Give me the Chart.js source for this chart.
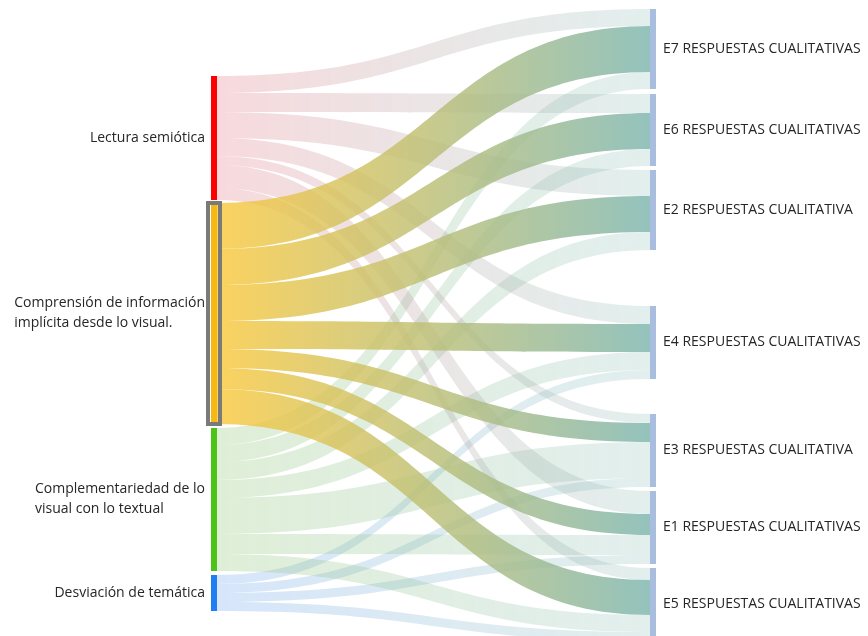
<!DOCTYPE html>
<html>
<head>
<meta charset="utf-8">
<script src="https://cdn.jsdelivr.net/npm/chart.js@4.4.1/dist/chart.umd.min.js"></script>
<style>
html,body{margin:0;padding:0;background:#fff;}
#wrap{width:868px;height:636px;position:relative;}
</style>
</head>
<body>
<div id="wrap"><canvas id="c"></canvas></div>
<script>
// ---- DATA ----
const sourceLabels = [
  ["Lectura semiótica"],
  ["Comprensión de información", "implícita desde lo visual."],
  ["Complementariedad de lo", "visual con lo textual"],
  ["Desviación de temática"]
];
const targetLabels = [
  "E7 RESPUESTAS CUALITATIVAS",
  "E6 RESPUESTAS CUALITATIVAS",
  "E2 RESPUESTAS CUALITATIVA",
  "E4 RESPUESTAS CUALITATIVAS",
  "E3 RESPUESTAS CUALITATIVA",
  "E1 RESPUESTAS CUALITATIVAS",
  "E5 RESPUESTAS CUALITATIVAS"
];
// flow values from each source to targets (order of targetLabels)
const fromLectura           = [17, 19, 26, 18,  9, 23, 12];
const fromComprension       = [46, 36, 36, 28, 19, 21, 35];
const fromComplementariedad = [17, 17, 18, 18, 36, 20, 17];
const fromDesviacion        = [ 0,  0,  0,  9,  9,  9,  9];
const flows = [fromLectura, fromComprension, fromComplementariedad, fromDesviacion];

// ---- LAYOUT / STYLE ----
const layout = {
  leftTop: 76, leftGaps: [3, 4, 4],
  rightTop: 9, rightGaps: [5, 4, 56, 35, 4, 4],
  nodeWidth: 6,
  selected: 1
};
const style = {
  sourceNodeColors: ['#ff0000', '#f5b914', '#4cc417', '#1f7ef2'],
  targetNodeColor: '#a9bedf',
  linkSrcFaded: ['rgba(230,130,140,0.3)', 'rgba(250,200,60,0.3)', 'rgba(150,200,120,0.3)', 'rgba(120,170,240,0.3)'],
  linkSrcHighlight: 'rgba(250,200,60,0.82)',
  linkTgtFaded: 'rgba(124,181,174,0.22)',
  linkTgtHighlight: 'rgba(124,181,174,0.82)',
  font: '14px "Open Sans", "Noto Sans", sans-serif',
  textColor: '#262626',
  lineHeight: 20
};

const sankeyPlugin = {
  id: 'sankey',
  afterDatasetsDraw(chart, args, opts) {
    const ctx = chart.ctx;
    const xs = chart.scales.x, ys = chart.scales.y;
    const nS = flows.length, nT = targetLabels.length;
    const srcTotals = flows.map(r => r.reduce((a, b) => a + b, 0));
    const tgtTotals = targetLabels.map((_, j) => flows.reduce((a, r) => a + r[j], 0));
    let y = layout.leftTop;
    const srcTop = srcTotals.map((t, i) => { if (i > 0) y += layout.leftGaps[i - 1]; const v = y; y += t; return v; });
    y = layout.rightTop;
    const tgtTop = tgtTotals.map((t, j) => { if (j > 0) y += layout.rightGaps[j - 1]; const v = y; y += t; return v; });

    const px = v => ys.getPixelForValue(v);
    const xL = xs.getPixelForValue(0), xR = xs.getPixelForValue(1);
    const w = layout.nodeWidth;
    const x0 = xL + w, x1 = xR - w;
    const xm = (x0 + x1) / 2;

    const links = [];
    const srcOff = srcTop.slice();
    const tgtOff = tgtTop.slice();
    for (let i = 0; i < nS; i++) {
      for (let j = 0; j < nT; j++) {
        const v = flows[i][j];
        if (!v) continue;
        links.push({ i, j, v, sy: srcOff[i], ty: 0 });
        srcOff[i] += v;
      }
    }
    links.sort((a, b) => a.j - b.j || a.i - b.i);
    links.forEach(l => { l.ty = tgtOff[l.j]; tgtOff[l.j] += l.v; });

    ctx.save();
    const drawLink = (l, hi) => {
      const sy0 = px(l.sy), sy1 = px(l.sy + l.v);
      const ty0 = px(l.ty), ty1 = px(l.ty + l.v);
      const g = ctx.createLinearGradient(x0, 0, x1, 0);
      g.addColorStop(0, hi ? style.linkSrcHighlight : style.linkSrcFaded[l.i]);
      g.addColorStop(1, hi ? style.linkTgtHighlight : style.linkTgtFaded);
      ctx.beginPath();
      ctx.moveTo(x0, sy0);
      ctx.bezierCurveTo(xm, sy0, xm, ty0, x1, ty0);
      ctx.lineTo(x1, ty1);
      ctx.bezierCurveTo(xm, ty1, xm, sy1, x0, sy1);
      ctx.closePath();
      ctx.fillStyle = g;
      ctx.fill();
    };
    links.filter(l => l.i !== layout.selected).forEach(l => drawLink(l, false));
    links.filter(l => l.i === layout.selected).forEach(l => drawLink(l, true));

    for (let i = 0; i < nS; i++) {
      const t = px(srcTop[i]), b = px(srcTop[i] + srcTotals[i]);
      ctx.fillStyle = style.sourceNodeColors[i];
      ctx.fillRect(xL, t, w, b - t);
      if (i === layout.selected) {
        ctx.strokeStyle = '#7a7a7a';
        ctx.lineWidth = 4;
        ctx.strokeRect(xL - 3, t, w + 6, b - t);
      }
    }
    for (let j = 0; j < nT; j++) {
      const t = px(tgtTop[j]), b = px(tgtTop[j] + tgtTotals[j]);
      ctx.fillStyle = style.targetNodeColor;
      ctx.fillRect(x1, t, w, b - t);
    }

    ctx.font = style.font;
    ctx.fillStyle = style.textColor;
    ctx.textBaseline = 'middle';
    ctx.textAlign = 'left';
    for (let i = 0; i < nS; i++) {
      const lines = sourceLabels[i];
      const cy = px(srcTop[i] + srcTotals[i] / 2);
      const maxW = Math.max(...lines.map(s => ctx.measureText(s).width));
      const lx = xL - 6 - maxW;
      const startY = cy - (lines.length - 1) * style.lineHeight / 2;
      lines.forEach((s, k) => ctx.fillText(s, lx, startY + k * style.lineHeight));
    }
    for (let j = 0; j < nT; j++) {
      const cy = px(tgtTop[j] + tgtTotals[j] / 2);
      ctx.fillText(targetLabels[j], xR + 7, cy);
    }
    ctx.restore();
  }
};

new Chart(document.getElementById('c'), {
  type: 'scatter',
  data: { datasets: [{ data: [] }] },
  options: {
    responsive: true,
    maintainAspectRatio: false,
    animation: false,
    layout: { padding: { left: 211, right: 212, top: 0, bottom: 0 } },
    plugins: { legend: { display: false }, tooltip: { enabled: false } },
    scales: {
      x: { type: 'linear', min: 0, max: 1, display: false },
      y: { type: 'linear', min: 0, max: 636, reverse: true, display: false }
    }
  },
  plugins: [sankeyPlugin]
});
</script>
</body>
</html>
